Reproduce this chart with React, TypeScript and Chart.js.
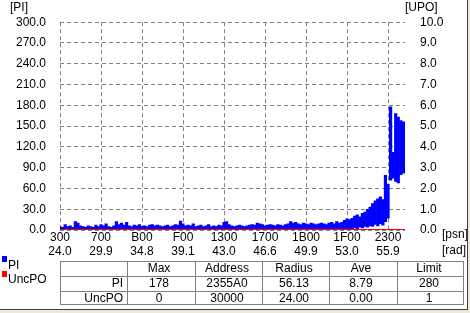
import React, { useEffect, useRef } from "react";
import { Chart, registerables } from "chart.js";

Chart.register(...registerables);

// Address sampling (unit: address / 0x100)
const ADDR_START = 0x300;
const ADDR_STEP = 0x40;
const ADDR_END = 0x24a8;

// PI envelope per address bin (max / min), left axis
const PI_MAX = [
  5, 4, 8, 5, 6, 4, 12, 10, 6, 5,
  4, 6, 5, 4, 7, 5, 8, 6, 9, 5,
  4, 6, 12, 8, 10, 7, 11, 6, 5, 7,
  6, 8, 5, 6, 5, 7, 8, 6, 7, 6,
  5, 6, 7, 5, 6, 8, 7, 13, 9, 6,
  7, 6, 9, 5, 6, 7, 5, 6, 8, 5,
  6, 5, 7, 6, 11, 12, 8, 6, 5, 6,
  7, 6, 5, 6, 7, 8, 7, 10, 9, 8,
  6, 7, 8, 7, 6, 8, 7, 6, 8, 9,
  12, 10, 11, 9, 8, 10, 9, 8, 10, 9,
  8, 9, 10, 9, 8, 10, 11, 9, 12, 10,
  11, 14, 16, 15, 17, 20, 22, 19, 24, 26,
  30, 33, 38, 42, 45, 48, 44, 79, 66, 178,
  112, 168, 163, 158, 156,
];
const PI_MIN = [
  0, 0, 0, 0, 0, 0, 0, 0, 0, 0,
  0, 0, 0, 0, 0, 0, 0, 0, 0, 0,
  0, 0, 0, 0, 0, 0, 0, 0, 0, 0,
  0, 0, 0, 0, 0, 0, 0, 0, 0, 0,
  0, 0, 0, 0, 0, 0, 0, 0, 0, 0,
  0, 0, 0, 0, 0, 0, 0, 0, 0, 0,
  0, 0, 0, 0, 0, 0, 0, 0, 0, 0,
  0, 0, 0, 0, 0, 0, 0, 0, 0, 0,
  0, 0, 0, 0, 0, 0, 0, 0, 0, 0,
  0, 0, 0, 0, 0, 0, 0, 0, 0, 0,
  0, 0, 0, 0, 0, 0, 0, 0, 0, 0,
  0, 0, 1, 2, 1, 3, 2, 4, 3, 5,
  4, 6, 5, 8, 6, 9, 7, 12, 17, 72,
  75, 70, 68, 80, 82,
];

// UncPO (right axis)
const UNCPO_ADDR = [0x300, 0x24a8];
const UNCPO = [0, 0];

// X axis ticks
const X_TICKS = [0x300, 0x700, 0xb00, 0xf00, 0x1300, 0x1700, 0x1b00, 0x1f00, 0x2300];
const X_TICK_PSN = ["300", "700", "B00", "F00", "1300", "1700", "1B00", "1F00", "2300"];
const X_TICK_RAD = ["24.0", "29.9", "34.8", "39.1", "43.0", "46.6", "49.9", "53.0", "55.9"];

// Summary table
const TABLE_HEAD = ["", "Max", "Address", "Radius", "Ave", "Limit"];
const TABLE_ROWS = [
  ["PI", "178", "2355A0", "56.13", "8.79", "280"],
  ["UncPO", "0", "30000", "24.00", "0.00", "1"],
];

const FONT = "'Liberation Sans', Arial, sans-serif";
const GRID = "#808080";

export default function App() {
  const ref = useRef<HTMLCanvasElement | null>(null);

  useEffect(() => {
    if (!ref.current) return;
    Chart.defaults.font.family = FONT;
    Chart.defaults.font.size = 12;
    Chart.defaults.color = "#000";
    const chart = new Chart(ref.current, {
      type: "bar",
      data: {
        datasets: [
          {
            type: "line",
            label: "UncPO",
            data: UNCPO_ADDR.map((x, i) => ({ x, y: UNCPO[i] })),
            yAxisID: "y1",
            borderColor: "#ff0000",
            borderWidth: 2,
            pointRadius: 0,
            order: 0,
          } as any,
          {
            type: "bar",
            label: "PI",
            data: PI_MAX.map((v, i) => ({ x: ADDR_START + i * ADDR_STEP, y: [PI_MIN[i], v] })),
            yAxisID: "y",
            backgroundColor: "#0000ff",
            borderWidth: 0,
            barPercentage: 1,
            categoryPercentage: 1,
            order: 1,
          } as any,
        ],
      },
      options: {
        animation: false,
        responsive: false,
        events: [],
        layout: { padding: { top: 22, left: 0, right: 0, bottom: 0 } },
        plugins: { legend: { display: false }, tooltip: { enabled: false } },
        scales: {
          x: {
            type: "linear",
            min: ADDR_START,
            max: ADDR_END,
            offset: false,
            grid: { offset: false, color: GRID, drawTicks: false, lineWidth: 1 },
            border: { display: false, dash: [4, 3] },
            afterBuildTicks: (s: any) => {
              s.ticks = X_TICKS.map((v) => ({ value: v }));
            },
            afterFit: (s: any) => {
              s.height = 32;
            },
            ticks: {
              padding: 0,
              maxRotation: 0,
              autoSkip: false,
              callback: (_v: any, i: number) => [X_TICK_PSN[i], X_TICK_RAD[i]],
            },
          },
          y: {
            position: "left",
            min: 0,
            max: 300,
            grid: { color: GRID, drawTicks: false, lineWidth: 1 },
            border: { display: false, dash: [4, 3] },
            ticks: { stepSize: 30, padding: 14, callback: (v: any) => Number(v).toFixed(1) },
            afterFit: (s: any) => {
              s.width = 60;
            },
          },
          y1: {
            position: "right",
            min: 0,
            max: 10,
            grid: { display: false, drawTicks: false, drawOnChartArea: false },
            border: { display: false },
            ticks: { stepSize: 1, padding: 15, callback: (v: any) => Number(v).toFixed(1) },
            afterFit: (s: any) => {
              s.width = 65;
            },
          },
        },
      } as any,
    });
    return () => chart.destroy();
  }, []);

  const txt: React.CSSProperties = {
    position: "absolute",
    fontFamily: FONT,
    fontSize: 12,
    lineHeight: "14px",
    color: "#000",
    whiteSpace: "nowrap",
  };
  const colW = (464 - 60) / 6;
  const rowTop = [261, 276, 291];
  const rowH = [15, 15, 14];

  return (
    <div style={{ position: "absolute", left: 0, top: 0, width: 470, height: 313, background: "#fff", overflow: "hidden" }}>
      <canvas ref={ref} width={470} height={262} style={{ position: "absolute", left: 0, top: 0 }} />
      <div style={{ ...txt, left: 10, top: 0 }}>[PI]</div>
      <div style={{ ...txt, left: 405, top: 0 }}>[UPO]</div>
      <div style={{ ...txt, left: 442, top: 227 }}>[psn]</div>
      <div style={{ ...txt, left: 442, top: 243 }}>[rad]</div>
      {/* legend */}
      <div style={{ position: "absolute", left: 2, top: 256, width: 5, height: 6, background: "#0000ff" }} />
      <div style={{ ...txt, left: 8, top: 258 }}>PI</div>
      <div style={{ position: "absolute", left: 2, top: 271, width: 5, height: 6, background: "#ff0000" }} />
      <div style={{ ...txt, left: 8, top: 272 }}>UncPO</div>
      {/* table */}
      <div style={{ position: "absolute", left: 60, top: 261, width: 404, height: 44, border: `1px solid ${GRID}`, boxSizing: "border-box" }} />
      {[1, 2, 3, 4, 5].map((c) => (
        <div key={"v" + c} style={{ position: "absolute", left: Math.round(60 + c * colW), top: 261, width: 1, height: 44, background: GRID }} />
      ))}
      {[276, 291].map((y) => (
        <div key={"h" + y} style={{ position: "absolute", left: 60, top: y, width: 404, height: 1, background: GRID }} />
      ))}
      {[TABLE_HEAD, ...TABLE_ROWS].map((row, r) =>
        row.map((cell, c) => (
          <div
            key={r + "-" + c}
            style={{
              ...txt,
              left: Math.round(60 + c * colW) + 1,
              top: rowTop[r],
              width: Math.round(colW) - 5,
              height: rowH[r],
              lineHeight: rowH[r] + "px",
              textAlign: c === 0 ? "right" : "center",
            }}
          >
            {cell}
          </div>
        ))
      )}
      {/* window frame */}
      <div style={{ position: "absolute", left: 467, top: 0, width: 1, height: 313, background: "#404040" }} />
      <div style={{ position: "absolute", left: 468, top: 0, width: 2, height: 313, background: "#ece9d8" }} />
      <div style={{ position: "absolute", left: 0, top: 309, width: 468, height: 1, background: "#404040" }} />
      <div style={{ position: "absolute", left: 0, top: 310, width: 470, height: 3, background: "#ece9d8" }} />
    </div>
  );
}
